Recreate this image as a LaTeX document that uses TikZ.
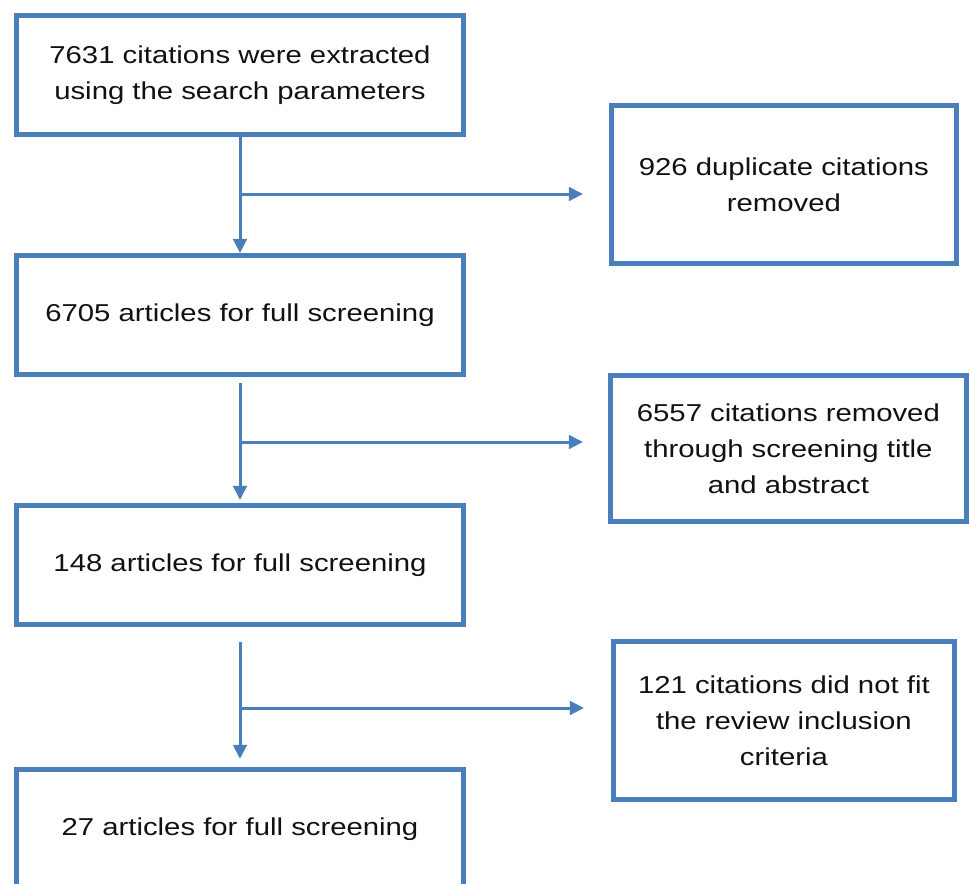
\documentclass[tikz,border=0pt]{standalone}
\usepackage{fontspec}
\setmainfont{Liberation Sans}[FakeStretch=1.2]
\usepackage{tikz}
\usetikzlibrary{arrows.meta,positioning,calc}
\definecolor{BoxBlue}{HTML}{4A7EBB}
\definecolor{InkBlack}{HTML}{111111}

\begin{document}
\begin{tikzpicture}[
    x=0.02cm, y=-0.02cm,
    font=\fontsize{13.9pt}{20.5pt}\selectfont,
    stage/.style={rectangle, draw=BoxBlue, fill=white, line width=0.1cm, text=InkBlack, align=center, minimum width=8.94cm, minimum height=2.38cm},
    removed/.style={rectangle, draw=BoxBlue, fill=white, line width=0.1cm, text=InkBlack, align=center},
    arrow/.style={-{Triangle[length=0.28cm, width=0.27cm]}, line width=0.06cm, draw=BoxBlue}
]
\useasboundingbox (0,0) rectangle (970,883);

\node[stage] (cit) at (240,75) {7631 citations were extracted\\using the search parameters};
\node[stage, below=2.32cm of cit] (art1) {6705 articles for full screening};
\node[stage, below=2.52cm of art1] (art2) {148 articles for full screening};
\node[stage, below=2.8cm of art2] (art3) {27 articles for full screening};

\node[removed, minimum width=6.9cm, minimum height=3.16cm, right=2.86cm of cit, yshift=-2.19cm] (dup) {926 duplicate citations\\removed};
\node[removed, minimum width=7.12cm, minimum height=2.92cm, right=2.84cm of art1, yshift=-2.67cm] (scr) {6557 citations removed\\through screening title\\and abstract};
\node[removed, minimum width=6.82cm, minimum height=3.16cm, right=2.9cm of art2, yshift=-3.11cm] (nofit) {121 citations did not fit\\the review inclusion\\criteria};

\coordinate (j1) at (240,194);
\coordinate (j2) at (240,442);
\coordinate (j3) at (240,708);

\draw[arrow] (cit.south) -- (art1.north);
\draw[arrow, shorten >=0.52cm] (j1) -- (j1 -| dup.west);
\draw[arrow, shorten <=0.12cm, shorten >=0.06cm] (art1.south) -- (art2.north);
\draw[arrow, shorten >=0.5cm] (j2) -- (j2 -| scr.west);
\draw[arrow, shorten <=0.3cm, shorten >=0.16cm] (art2.south) -- (art3.north);
\draw[arrow, shorten >=0.54cm] (j3) -- (j3 -| nofit.west);
\end{tikzpicture}
\end{document}
